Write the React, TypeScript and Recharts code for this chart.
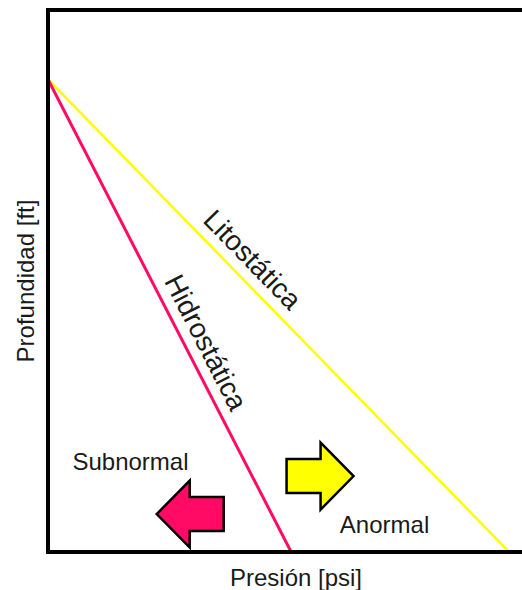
import {
  Label,
  Line,
  LineChart,
  ReferenceDot,
  ReferenceLine,
  XAxis,
  YAxis,
} from "recharts";

// pressure (arbitrary units, 0-100) vs depth (0-100, grows downward)
const litoPressure = [0, 97.3];
const litoDepth = [12.8, 100];
const hidroPressure = [0, 51.3];
const hidroDepth = [12.8, 100];

// annotation anchors, in data units [pressure, depth]
const litoLabelAt = [43.2, 46.0];
const hidroLabelAt = [33.4, 61.3];
const subnormalAt = [17.4, 83.3];
const anormalAt = [71.0, 94.9];
const subArrowAt = [30.0, 93.0];
const anoArrowAt = [57.4, 86.0];

const litoData = litoPressure.map((p, i) => ({ p, d: litoDepth[i] }));
const hidroData = hidroPressure.map((p, i) => ({ p, d: hidroDepth[i] }));

const W = 522;
const H = 590;
const FONT = "'Liberation Sans', Arial, sans-serif";
const TEXT = "#1a1a1a";
const PINK = "#ff0a64";
const YELLOW = "#ffff00";

function Arrow({
  cx,
  cy,
  dir,
  fill,
}: {
  cx?: number;
  cy?: number;
  dir: 1 | -1;
  fill: string;
}) {
  if (cx == null || cy == null) return null;
  const len = 67;
  const head = 33;
  const headH = 67;
  const bodyH = 34;
  const tip = cx + (dir * len) / 2;
  const back = cx - (dir * len) / 2;
  const neck = tip - dir * head;
  const pts = [
    [tip, cy],
    [neck, cy - headH / 2],
    [neck, cy - bodyH / 2],
    [back, cy - bodyH / 2],
    [back, cy + bodyH / 2],
    [neck, cy + bodyH / 2],
    [neck, cy + headH / 2],
  ]
    .map((q) => q.join(","))
    .join(" ");
  return (
    <polygon
      points={pts}
      fill={fill}
      stroke="#000"
      strokeWidth={2.5}
      strokeLinejoin="miter"
    />
  );
}

function TextDot({
  at,
  text,
  angle = 0,
  size = 24,
}: {
  at: number[];
  text: string;
  angle?: number;
  size?: number;
}) {
  return (
    <ReferenceDot
      key={text}
      x={at[0]}
      y={at[1]}
      r={1}
      fill="none"
      stroke="none"
    >
      <Label
        value={text}
        position="center"
        angle={angle}
        fontSize={size}
        fontFamily={FONT}
        fill={TEXT}
      />
    </ReferenceDot>
  );
}

export default function App() {
  return (
    <div
      style={{
        position: "absolute",
        left: 0,
        top: 0,
        width: W,
        height: H,
        background: "#fff",
      }}
    >
      <LineChart
        width={W}
        height={H}
        margin={{ top: 10, right: 0, left: 0, bottom: 0 }}
      >
        <XAxis
          type="number"
          dataKey="p"
          domain={[0, 100]}
          allowDataOverflow
          height={38}
          tick={false}
          tickLine={false}
          axisLine={{ stroke: "#000", strokeWidth: 4, strokeLinecap: "square" }}
        >
          <Label
            value="Presión [psi]"
            position="center"
            dx={11}
            dy={6}
            fontSize={24}
            fontFamily={FONT}
            fill={TEXT}
          />
        </XAxis>
        <YAxis
          type="number"
          dataKey="d"
          domain={[0, 100]}
          reversed
          allowDataOverflow
          width={48}
          tick={false}
          tickLine={false}
          axisLine={{ stroke: "#000", strokeWidth: 4, strokeLinecap: "square" }}
        >
          <Label
            value="Profundidad [ft]"
            position="center"
            angle={-90}
            dx={1}
            fontSize={24}
            fontFamily={FONT}
            fill={TEXT}
          />
        </YAxis>
        <ReferenceLine
          y={0}
          stroke="#000"
          strokeWidth={4}
          ifOverflow="visible"
        />
        <Line
          data={litoData}
          dataKey="d"
          type="linear"
          stroke={YELLOW}
          strokeWidth={2.5}
          dot={false}
          activeDot={false}
          isAnimationActive={false}
        />
        <Line
          data={hidroData}
          dataKey="d"
          type="linear"
          stroke={PINK}
          strokeWidth={3}
          dot={false}
          activeDot={false}
          isAnimationActive={false}
        />
        <ReferenceDot
          x={subArrowAt[0]}
          y={subArrowAt[1]}
          shape={(props: any) => (
            <Arrow cx={props.cx} cy={props.cy} dir={-1} fill={PINK} />
          )}
        />
        <ReferenceDot
          x={anoArrowAt[0]}
          y={anoArrowAt[1]}
          shape={(props: any) => (
            <Arrow cx={props.cx} cy={props.cy} dir={1} fill={YELLOW} />
          )}
        />
        {TextDot({ at: litoLabelAt, text: "Litostática", angle: 45.7, size: 28 })}
        {TextDot({ at: hidroLabelAt, text: "Hidrostática", angle: 62.9, size: 28 })}
        {TextDot({ at: subnormalAt, text: "Subnormal" })}
        {TextDot({ at: anormalAt, text: "Anormal" })}
      </LineChart>
    </div>
  );
}
